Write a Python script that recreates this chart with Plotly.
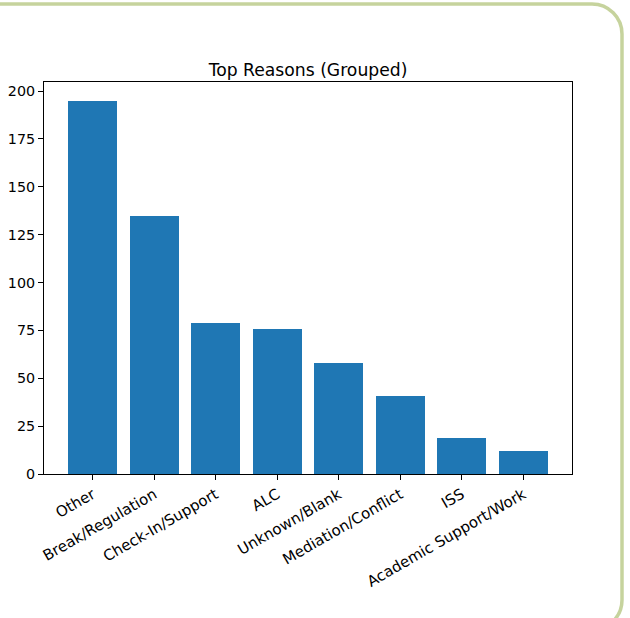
import plotly.graph_objects as go

categories = ["Other", "Break/Regulation", "Check-In/Support", "ALC", "Unknown/Blank",
              "Mediation/Conflict", "ISS", "Academic Support/Work"]
counts = [195, 135, 79, 76, 58, 41, 19, 12]
y_ticks = [0, 25, 50, 75, 100, 125, 150, 175, 200]

W, H = 630, 618
L, R, T, B = 44, 58, 82, 144
PW, PH = W - L - R, H - T - B

def px(x):
    return (x - L) / PW

def py(y):
    return (H - B - y) / PH

FONT = "DejaVu Sans"
BLUE = "#1f77b4"

fig = go.Figure()
fig.add_trace(go.Bar(
    x=list(range(len(categories))), y=counts, width=0.8,
    marker=dict(color=BLUE, line=dict(width=0)),
    hoverinfo="skip",
))

# decorative rounded frame
r = 30
k = 0.5523 * r
x0, y0, x1, y1 = -20, 4, 622, 630
path = (
    f"M {px(x0)},{py(y0)} L {px(x1 - r)},{py(y0)} "
    f"C {px(x1 - r + k)},{py(y0)} {px(x1)},{py(y0 + r - k)} {px(x1)},{py(y0 + r)} "
    f"L {px(x1)},{py(y1 - r)} "
    f"C {px(x1)},{py(y1 - r + k)} {px(x1 - r + k)},{py(y1)} {px(x1 - r)},{py(y1)} "
    f"L {px(x0)},{py(y1)}"
)
fig.add_shape(type="path", path=path, xref="paper", yref="paper",
              line=dict(color="#c6d39d", width=3.5), layer="below")

n = len(categories)
fig.update_layout(
    width=W, height=H,
    margin=dict(l=L, r=R, t=T, b=B, pad=0),
    paper_bgcolor="white", plot_bgcolor="white",
    showlegend=False,
    font=dict(family=FONT, size=14.3, color="black"),
    title=dict(text="Top Reasons (Grouped)", x=0.5, xref="paper", xanchor="center",
               y=1, yref="paper", yanchor="bottom", pad=dict(b=6),
               font=dict(family=FONT, size=17.2, color="black")),
    bargap=0,
)
fig.update_xaxes(
    range=[-0.4 - 0.05 * (n - 0.2), n - 1 + 0.4 + 0.05 * (n - 0.2)],
    tickmode="array", tickvals=list(range(n)), ticktext=categories,
    tickangle=-30, ticks="outside", ticklen=5, tickwidth=1.1, tickcolor="black",
    showline=True, linecolor="black", linewidth=1.1, mirror=True,
    showgrid=False, zeroline=False, automargin=False,
    tickfont=dict(family=FONT, size=15, color="black"),
)
fig.update_yaxes(
    range=[0, max(counts) * 1.05],
    tickmode="array", tickvals=y_ticks,
    ticks="outside", ticklen=5, tickwidth=1.1, tickcolor="black",
    showline=True, linecolor="black", linewidth=1.1, mirror=True,
    showgrid=False, zeroline=False, automargin=False,
    tickfont=dict(family=FONT, size=14.3, color="black"),
)

fig.write_html("out.html",
               config={"displayModeBar": False},
               post_script="document.body.style.margin='0px';document.body.style.overflow='hidden';")
